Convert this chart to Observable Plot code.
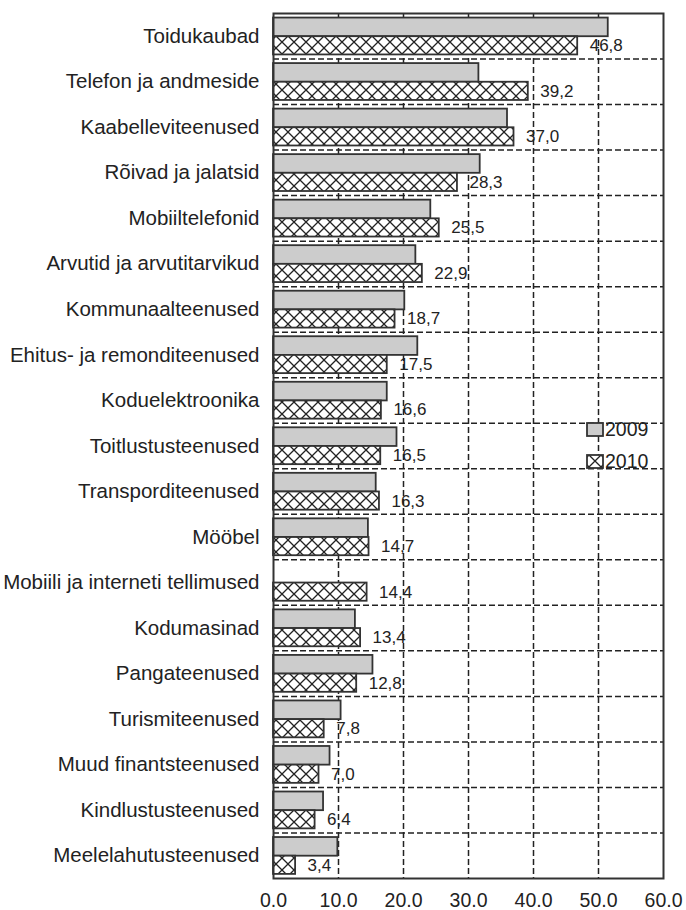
<!DOCTYPE html>
<html><head><meta charset="utf-8">
<script src="https://cdn.jsdelivr.net/npm/d3@7"></script>
<script src="https://cdn.jsdelivr.net/npm/@observablehq/plot@0.6"></script>
<style>
body{margin:0;background:#fff;font-family:"Liberation Sans",Arial,sans-serif;}
#wrap{position:relative;width:686px;height:910px;}
.lg{position:absolute;display:flex;align-items:center;font-size:19.5px;color:#222;}
.lg svg{margin-right:1px;}
</style></head><body><div id="wrap"></div>
<script>
const categories = ["Toidukaubad","Telefon ja andmeside","Kaabelleviteenused","Rõivad ja jalatsid","Mobiiltelefonid","Arvutid ja arvutitarvikud","Kommunaalteenused","Ehitus- ja remonditeenused","Koduelektroonika","Toitlustusteenused","Transporditeenused","Mööbel","Mobiili ja interneti tellimused","Kodumasinad","Pangateenused","Turismiteenused","Muud finantsteenused","Kindlustusteenused","Meelelahutusteenused"];
const values2009 = [51.5,31.6,36.0,31.8,24.2,21.9,20.2,22.2,17.5,19.0,15.8,14.6,null,12.6,15.3,10.4,8.7,7.7,9.9];
const values2010 = [46.8,39.2,37.0,28.3,25.5,22.9,18.7,17.5,16.6,16.5,16.3,14.7,14.4,13.4,12.8,7.8,7.0,6.4,3.4];
const series = ["2009","2010"];
const xTicks = [0,10,20,30,40,50,60];

const rows = [];
categories.forEach((c, i) => {
  if (values2009[i] != null) rows.push({cat: c, i, year: "2009", value: values2009[i]});
  if (values2010[i] != null) rows.push({cat: c, i, year: "2010", value: values2010[i]});
});
const rows2010 = rows.filter(d => d.year === "2010");
const catRows = categories.map((c, i) => ({cat: c, i}));

const dash = {stroke: "#222", strokeWidth: 1.5, strokeDasharray: "6,3"};
const fillOf = d => d.year === "2009" ? "#cccccc" : "url(#hatch)";

const chart = Plot.plot({
  width: 686, height: 910,
  marginLeft: 273, marginRight: 23, marginTop: 13, marginBottom: 32,
  style: {fontFamily: "'Liberation Sans', Arial, sans-serif", background: "#fff", color: "#222"},
  x: {domain: [xTicks[0], xTicks[xTicks.length - 1]], label: null},
  y: {domain: [0, categories.length], reverse: true, axis: null},
  marks: [
    Plot.ruleX(xTicks.slice(1, -1), dash),
    Plot.ruleY(d3.range(1, categories.length), dash),
    Plot.rectX(rows, {
      x1: 0, x2: "value",
      y1: d => d.i + (d.year === "2009" ? 0.1 : 0.51),
      y2: d => d.i + (d.year === "2009" ? 0.51 : 0.91),
      fill: fillOf, stroke: "#333", strokeWidth: 1.8
    }),
    Plot.text(rows2010, {
      x: "value", y: d => d.i + 0.71,
      text: d => d.value.toFixed(1).replace(".", ","),
      dx: 12, textAnchor: "start", fontSize: 17, fill: "#222"
    }),
    Plot.text(catRows, {
      frameAnchor: "left", y: d => d.i + 0.5, text: "cat",
      dx: -14, textAnchor: "end", fontSize: 20.5, fill: "#222"
    }),
    Plot.frame({stroke: "#333", strokeWidth: 2}),
    Plot.axisX(xTicks, {tickSize: 0, tickPadding: 15, fontSize: 19.5, tickFormat: d => d.toFixed(1), fill: "#222", label: null})
  ]
});

const defs = document.createElementNS("http://www.w3.org/2000/svg", "defs");
defs.innerHTML = '<pattern id="hatch" width="12" height="12" patternUnits="userSpaceOnUse"><rect width="12" height="12" fill="white"/><path d="M0,0L12,12M12,0L0,12" stroke="#222" stroke-width="1.3"/></pattern>';
chart.prepend(defs);

const wrap = document.getElementById("wrap");
wrap.appendChild(chart);

series.forEach((s, k) => {
  const div = document.createElement("div");
  div.className = "lg";
  div.style.left = "586px";
  div.style.top = (418 + k * 32) + "px";
  const fill = s === "2009" ? "#cccccc" : "url(#hatchL)";
  div.innerHTML = `<svg width="18" height="15"><defs><pattern id="hatchL" width="12" height="12" patternUnits="userSpaceOnUse" x="3" y="1"><rect width="12" height="12" fill="white"/><path d="M0,0L12,12M12,0L0,12" stroke="#222" stroke-width="1.3"/></pattern></defs><rect x="1" y="1" width="16" height="13" fill="${fill}" stroke="#333" stroke-width="1.8"/></svg><span>${s}</span>`;
  wrap.appendChild(div);
});
</script>
</body></html>
